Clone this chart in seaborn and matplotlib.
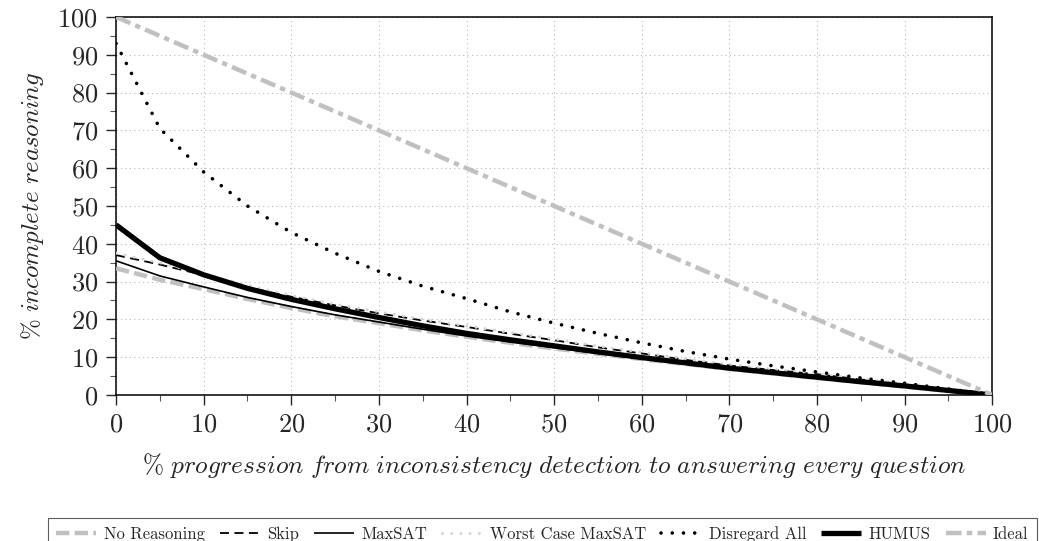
import numpy as np
import pandas as pd
import matplotlib
matplotlib.use("Agg")
import matplotlib.pyplot as plt
from matplotlib.ticker import MultipleLocator
import seaborn as sns

# progression steps (%)
progress = [0, 5, 10, 15, 20, 25, 30, 35, 40, 45, 50, 55, 60, 65, 70, 75, 80, 85, 90, 95, 100]

no_reasoning = [33.5, 30.5, 28.0, 25.4, 23.0, 20.8, 19.0, 17.1, 15.4, 13.8, 12.3,
                10.9, 9.5, 8.2, 6.9, 5.7, 4.5, 3.4, 2.2, 1.1, 0.0]
skip = [37.0, 34.5, 31.7, 28.5, 26.0, 23.7, 21.6, 19.7, 18.0, 16.2, 14.5,
        12.6, 11.0, 9.3, 7.8, 6.6, 5.5, 4.1, 2.8, 1.4, 0.0]
maxsat = [35.5, 31.5, 28.6, 25.8, 23.4, 21.2, 19.3, 17.4, 15.6, 14.0, 12.5,
          11.0, 9.6, 8.3, 7.0, 5.8, 4.6, 3.5, 2.3, 1.2, 0.0]
worst_maxsat = [37.5, 35.0, 32.0, 29.0, 26.3, 24.0, 22.0, 20.0, 18.3, 16.5, 14.8,
                12.9, 11.3, 9.6, 8.0, 6.8, 5.6, 4.2, 2.9, 1.5, 0.0]
disregard_all = [93.0, 70.5, 59.0, 50.0, 43.0, 37.5, 32.7, 28.8, 25.5, 22.0, 19.0,
                 16.3, 13.8, 11.5, 9.5, 7.7, 6.1, 4.5, 3.1, 1.6, 0.0]
humus = [45.0, 36.3, 31.8, 28.2, 25.3, 22.8, 20.5, 18.3, 16.3, 14.6, 13.0,
         11.4, 9.9, 8.5, 7.1, 5.9, 4.7, 3.5, 2.4, 1.2, 0.0]
ideal = [100, 95, 90, 85, 80, 75, 70, 65, 60, 55, 50, 45, 40, 35, 30, 25, 20, 15, 10, 5, 0]

sns.set_style("white")
plt.rcParams["font.family"] = ["cmr10", "DejaVu Serif"]
plt.rcParams["mathtext.fontset"] = "cm"
plt.rcParams["axes.formatter.use_mathtext"] = True

GRAY = "#c0c0c0"
LIGHT = "#d4d4d4"

# name, values, colour, width, dash pattern, capstyle
series = [
    ("No Reasoning", no_reasoning, GRAY, 3.2, (0, (3, 1.2)), "butt"),
    ("Skip", skip, "black", 1.3, (0, (5, 3)), "butt"),
    ("MaxSAT", maxsat, "black", 1.2, "-", "butt"),
    ("Worst Case MaxSAT", worst_maxsat, LIGHT, 2.2, (0, (0.01, 3)), "round"),
    ("Disregard All", disregard_all, "black", 2.6, (0, (0.01, 3.1)), "round"),
    ("HUMUS", humus, "black", 3.8, "-", "butt"),
    ("Ideal", ideal, GRAY, 3.2, (0, (3.5, 1.2, 1.2, 1.2)), "butt"),
]

fig, ax = plt.subplots(figsize=(10.39, 5.41), dpi=100)
fig.subplots_adjust(left=0.1117, right=0.955, top=0.9686, bottom=0.2699)

for name, vals, col, lw, ls, cap in series:
    df = pd.DataFrame({"x": progress, "y": vals})
    sns.lineplot(data=df, x="x", y="y", ax=ax, color=col, linewidth=lw,
                 linestyle=ls, label=name, dash_capstyle=cap,
                 solid_capstyle="butt", zorder=3)

ax.set_xlim(0, 100)
ax.set_ylim(0, 100)
ax.xaxis.set_major_locator(MultipleLocator(10))
ax.xaxis.set_minor_locator(MultipleLocator(5))
ax.yaxis.set_major_locator(MultipleLocator(10))
ax.yaxis.set_minor_locator(MultipleLocator(5))
ax.grid(True, which="major", color="#b8b8b8", linestyle=(0, (1, 3)), linewidth=0.8)
ax.tick_params(which="major", direction="out", length=7, width=1, labelsize=19,
               bottom=True, left=True, pad=6)
ax.tick_params(which="minor", direction="out", length=4.5, width=0.8,
               bottom=True, left=True, color="#555555")
for s in ax.spines.values():
    s.set_color("black")
    s.set_linewidth(1.1)

ax.set_xlabel(r"$\mathit{\%\ progression\ from\ inconsistency\ detection\ to\ answering\ every\ question}$",
              fontsize=18.3, labelpad=10)
ax.set_ylabel(r"$\mathit{\%\ incomplete\ reasoning}$", fontsize=18, labelpad=8)

handles, labels = ax.get_legend_handles_labels()
ax.get_legend().remove()
leg = fig.legend(handles, labels, loc="upper center", bbox_to_anchor=(0.522, 0.058),
                 ncol=7, fontsize=12, frameon=True, fancybox=False,
                 edgecolor="#333333", handlelength=2.4, handletextpad=0.45,
                 columnspacing=0.9, borderpad=0.5)
leg.get_frame().set_linewidth(0.8)

fig.savefig("out.png", dpi=100)
